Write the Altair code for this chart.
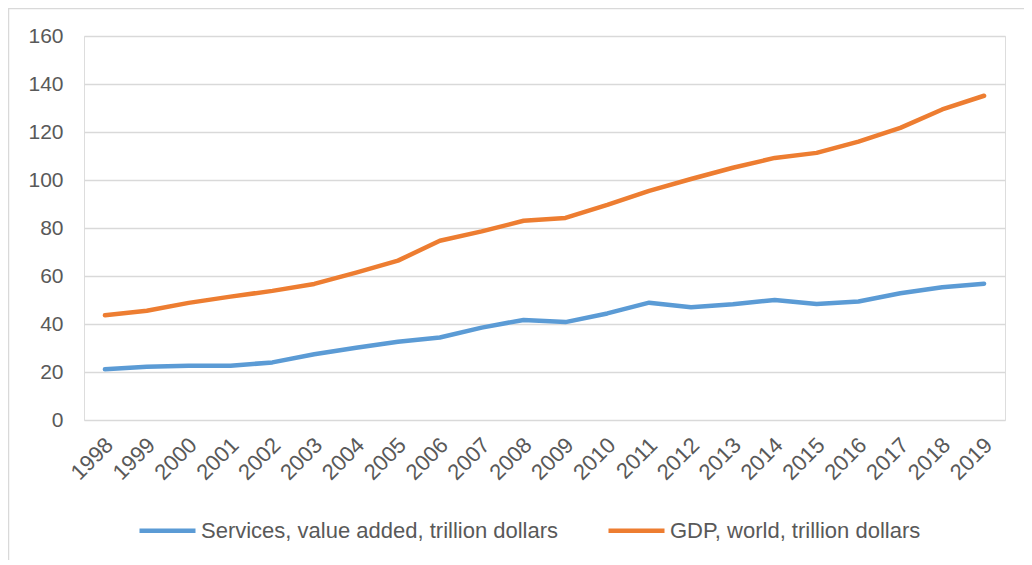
import altair as alt
import pandas as pd

years = [str(y) for y in range(1998, 2020)]
services = [21.1, 22.2, 22.6, 22.6, 24.0, 27.4, 30.1, 32.6, 34.4, 38.5, 41.7,
            40.8, 44.4, 48.9, 47.0, 48.2, 50.0, 48.3, 49.4, 52.8, 55.3, 56.8]
gdp = [43.6, 45.5, 48.8, 51.4, 53.8, 56.7, 61.4, 66.4, 74.7, 78.6, 83.0,
       84.2, 89.6, 95.5, 100.4, 105.1, 109.2, 111.3, 116.0, 121.7, 129.4, 135.1]
series_names = ["Services, value added, trillion dollars", "GDP, world, trillion dollars"]
series_colors = ["#5B9BD5", "#ED7D31"]

rows = []
for name, vals in zip(series_names, [services, gdp]):
    for y, v in zip(years, vals):
        rows.append({"year": y, "value": v, "series": name})
df = pd.DataFrame(rows)

FONT = "Liberation Sans"
GREY = "#595959"

lines = alt.Chart(df).mark_line(strokeWidth=4.5, strokeCap="round", strokeJoin="round").encode(
    x=alt.X("year:O", sort=years, scale=alt.Scale(type="point", padding=0.5),
            axis=alt.Axis(title=None, labelAngle=-45, labelFontSize=22, labelColor=GREY,
                          labelFont=FONT, ticks=False, tickSize=0, domain=False,
                          grid=False, labelPadding=14, labelOffset=-3)),
    y=alt.Y("value:Q", scale=alt.Scale(domain=[0, 160], nice=False),
            axis=alt.Axis(title=None, values=list(range(0, 161, 20)), labelFontSize=21,
                          labelColor=GREY, labelFont=FONT, ticks=False, tickSize=0,
                          domain=False, grid=True, gridColor="#D9D9D9", gridWidth=1.5,
                          labelPadding=21)),
    color=alt.Color("series:N", sort=series_names,
                    scale=alt.Scale(domain=series_names, range=series_colors),
                    legend=alt.Legend(title=None, orient="none", legendX=53, legendY=464,
                                      direction="horizontal", columns=2, columnPadding=40,
                                      symbolType="stroke", symbolSize=3136,
                                      symbolStrokeWidth=4.5, labelFontSize=22,
                                      labelFont=FONT, labelColor=GREY, labelOffset=3,
                                      labelLimit=0)),
)

border = alt.Chart(alt.Data(values=[{}])).mark_rect(
    fill=None, stroke="#D9D9D9", strokeWidth=1.5, clip=False
).encode(
    x=alt.value(-75.5), y=alt.value(-27.5), x2=alt.value(1200), y2=alt.value(800)
)

chart = alt.layer(border, lines).properties(
    width=921, height=384,
    autosize=alt.AutoSizeParams(type="none"),
    padding={"left": 76, "top": 28, "right": 19, "bottom": 140},
).configure_view(stroke=None).configure(background="white")

chart.save("out.html", embed_options={"renderer": "svg", "actions": False})
